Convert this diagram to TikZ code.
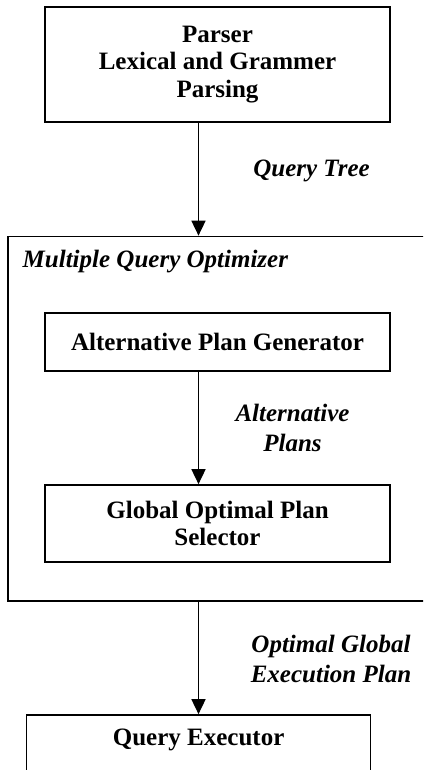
\documentclass[tikz,border=0pt]{standalone}
\usepackage{fontspec}
\setmainfont{Liberation Serif}
\usetikzlibrary{arrows.meta}
\tikzset{
  box/.style={draw, line width=1.7pt, inner sep=0pt, align=center,
    font=\fontsize{25}{27.5}\selectfont\bfseries},
  flowlabel/.style={inner sep=0pt, align=center,
    font=\fontsize{25}{29.5}\selectfont\bfseries\itshape},
  flow/.style={line width=1.7pt, -{Triangle[width=14pt,length=15pt]}}
}
\begin{document}
\begin{tikzpicture}[x=1pt, y=-1pt]
  \useasboundingbox (0,0) rectangle (423,770);
  \clip (0,0) rectangle (423,770);

  % column that all connectors follow
  \coordinate (col) at (198.5,0);

  % parser stage
  \node[box, minimum width=345pt, minimum height=114.5pt] (parser) at (217.5,64.5)
    {Parser\\Lexical and Grammer\\Parsing};

  % optimizer frame, running past the right border
  \node[box, minimum width=432pt, minimum height=364.5pt] (opt) at (224,418.75) {};
  \node[flowlabel, anchor=west] (opttitle) at (22.5,262) {Multiple Query Optimizer};

  \node[box, minimum width=345pt, minimum height=58pt] (altgen) at (217.5,342)
    {Alternative Plan Generator};
  \node[box, minimum width=345pt, minimum height=77pt] (selector) at (217.5,523.5)
    {Global Optimal Plan\\Selector};

  % executor, cut by the bottom border
  \node[box, minimum width=344pt, minimum height=75pt] (exec) at (198.6,752.5) {};
  \node[box, draw=none] (exectext) at (198.6,740) {Query Executor};

  % connectors
  \draw[flow] (parser.south -| col) -- (opt.north -| col);
  \draw[flow] (altgen.south -| col) -- (selector.north -| col);
  \draw[flow] (opt.south -| col) -- (exec.north -| col);

  % connector labels
  \node[flowlabel] (lbltree) at (311.5,171) {Query Tree};
  \node[flowlabel] (lblalt) at (292.5,428) {Alternative\\Plans};
  \node[flowlabel] (lblexec) at (331,659) {Optimal Global\\Execution Plan};
\end{tikzpicture}
\end{document}
